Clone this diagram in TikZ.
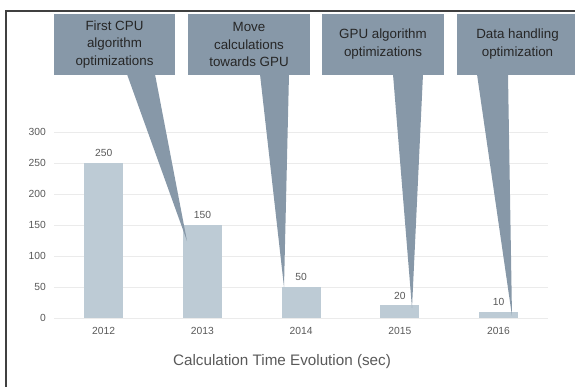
\documentclass[tikz,border=0pt]{standalone}
\usepackage{fontspec}
\setmainfont{Liberation Sans}
\usetikzlibrary{calc}
\definecolor{calloutfill}{HTML}{8798A8}
\definecolor{barfill}{HTML}{BDCBD5}
\definecolor{gridgrey}{HTML}{EBEBEB}
\definecolor{labelgrey}{HTML}{595959}
\definecolor{framegrey}{HTML}{404040}
\tikzset{
  callout/.style={
    fill = calloutfill,
    text = black!85,
    inner sep = 0pt,
    minimum width = 3.63cm,
    minimum height = 1.83cm,
    align = center,
    font = \fontsize{11.4}{15.3}\selectfont
  },
  pointer/.style={
    fill = calloutfill
  },
  bar/.style={
    fill = barfill,
    inner sep = 0pt,
    minimum width = 1.17cm,
    anchor = south
  },
  axislabel/.style={
    text = labelgrey,
    inner sep = 0pt,
    font = \fontsize{8.8}{10}\selectfont
  },
  gridline/.style={
    draw = gridgrey,
    line width = 0.8pt
  }
}

\begin{document}
\begin{tikzpicture}[x=0.03cm, y=-0.03cm]
            \useasboundingbox (0,0) rectangle (575,387);
            \draw[framegrey, line width=1.1pt] (6,387) -- (6,11) -- (575,11);
            % grid and values axis
            \foreach \v in {0,50,...,300}{
                    \draw[gridline] (54,{318-0.62*\v}) -- (548,{318-0.62*\v});
                    \node[axislabel, anchor=east] (y\v) at (46,{318-0.62*\v}) {\v};
                }
            % bars
            \foreach \yr/\val [count=\i] in {2012/250,2013/150,2014/50,2015/20,2016/10}{
                    \node[bar, minimum height={\val*0.0186cm}] (b\i) at ({103.7+98.7*(\i-1)},318) {};
                    \node[axislabel, anchor=south] (v\i) at ($(b\i.north)+(0,-5.5)$) {\val};
                    \node[axislabel] (yr\i) at ({103.7+98.7*(\i-1)},331) {\yr};
                }
            \node[text=labelgrey, font=\fontsize{13}{15}\selectfont] (title) at (282,362) {Calculation Time Evolution (sec)};
            % callouts
            \node[callout] (c1) at (114.5,44.5) {First CPU\\algorithm\\optimizations};
            \node[callout] (c2) at (249,44.5) {Move\\calculations\\towards GPU};
            \node[callout] (c3) at (383,44.5) {GPU algorithm\\optimizations};
            \node[callout] (c4) at (517.5,44.5) {Data handling\\optimization};
            \coordinate (t1) at (187,241);
            \coordinate (t2) at (284,287);
            \coordinate (t3) at (412,308);
            \coordinate (t4) at (512,316);
            \foreach \c/\a/\b in {1/12.5/40.5, 2/11/40, 3/10/40, 4/-40.5/-9.5}{
                    \fill[pointer] ($(c\c.south)+(\a,-1)$) -- (t\c) -- ($(c\c.south)+(\b,-1)$) -- cycle;
                }
        \end{tikzpicture}
\end{document}
